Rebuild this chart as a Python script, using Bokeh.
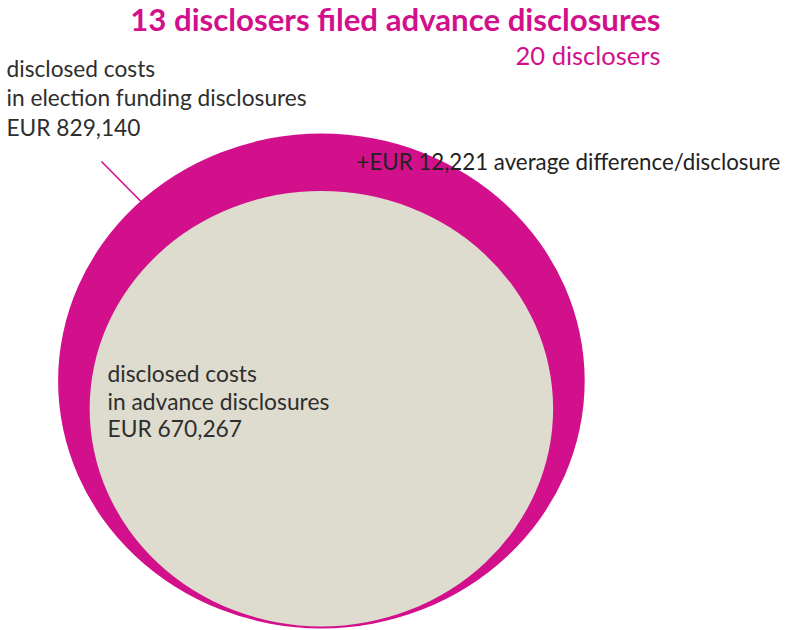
from bokeh.plotting import figure
from bokeh.models import Range1d, ColumnDataSource
from bokeh.core.properties import value
from bokeh.embed import file_html
from bokeh.resources import INLINE

# ---- data ----
series = ["election funding disclosures", "advance disclosures"]
costs = [829140, 670267]
disclosers = [20, 13]
avg_difference = 12221

MAGENTA = "#D2108C"
BEIGE = "#DEDCCE"
DARK = "#2e2e2e"
FONT = "Lato"

W, H = 785, 630
p = figure(width=W, height=H, output_backend="svg", toolbar_location=None,
           x_range=Range1d(0, W), y_range=Range1d(H, 0), min_border=0)
p.axis.visible = False
p.grid.visible = False
p.outline_line_color = None
p.background_fill_color = "white"
p.border_fill_color = "white"

# ---- ellipses: power scale of the disclosed costs ----
OUTER_RX, OUTER_RY = 263.3, 247.5   # size of the largest value
EXP = 0.6
scale = [(c / max(costs)) ** EXP for c in costs]
rx = [OUTER_RX * s for s in scale]
ry = [OUTER_RY * s for s in scale]
cx = 320.9
bottoms = [628.0, 626.0]
cy = [b - r for b, r in zip(bottoms, ry)]

src = ColumnDataSource(dict(x=[cx, cx], y=cy, w=[2 * r for r in rx], h=[2 * r for r in ry],
                            color=[MAGENTA, BEIGE]))
p.ellipse(x="x", y="y", width="w", height="h", fill_color="color", line_color=None, source=src)

# leader line
p.line(x=[101, 141], y=[161, 201.5], line_color=MAGENTA, line_width=1.6)


def label(xs, baselines, texts, size, color, align="left", bold=False):
    shift = 0.43 * size  # svg text baseline correction
    p.text(x=xs, y=[b - shift for b in baselines], text=texts,
           text_font=value(FONT), text_font_style="bold" if bold else "normal",
           text_font_size=f"{size}px", text_color=color,
           text_align=align, text_baseline="alphabetic")


# title
label([660], [32], [f"{disclosers[1]} disclosers filed advance disclosures"], 31.2, MAGENTA,
      align="right", bold=True)
label([660], [65], [f"{disclosers[0]} disclosers"], 25.5, MAGENTA, align="right")

# outer label
label([6, 6, 6], [78, 107, 136.5],
      ["disclosed costs", f"in {series[0]}", f"EUR {costs[0]:,}"], 22.7, DARK)

# inner label
label([107, 107, 107], [382.5, 410.5, 437.5],
      ["disclosed costs", f"in {series[1]}", f"EUR {costs[1]:,}"], 22.8, DARK)

# difference label
label([356], [171], [f"+EUR {avg_difference:,} average difference/disclosure"], 22.3, "#222222")

open("out.html", "w").write(file_html(p, INLINE))
